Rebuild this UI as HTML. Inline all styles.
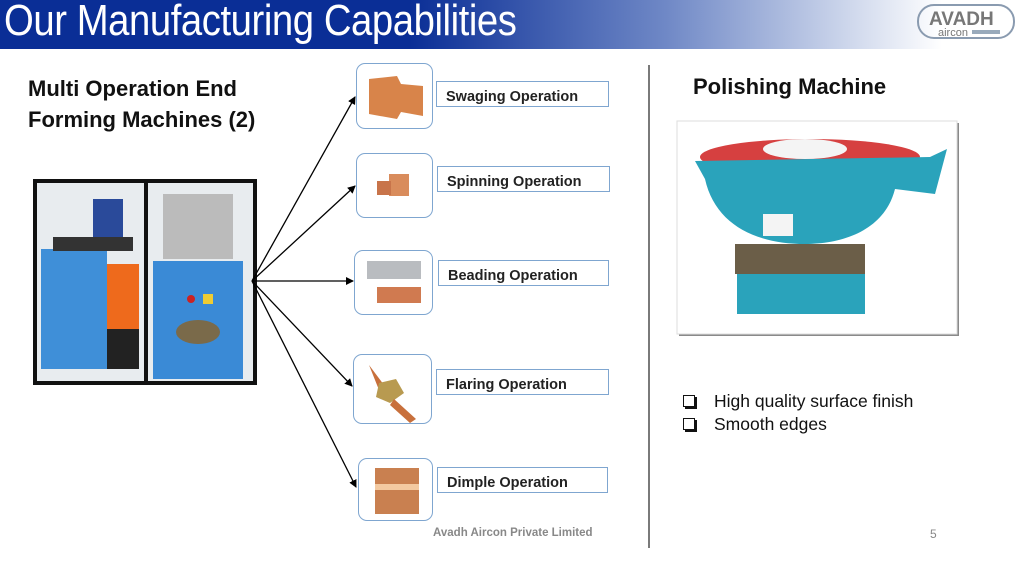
<!DOCTYPE html>
<html><head><meta charset="utf-8"><style>
body{margin:0;width:1024px;height:562px;background:#fff;position:relative;overflow:hidden;font-family:"Liberation Sans",sans-serif}
.hdr{position:absolute;left:0;top:0;width:1024px;height:49px;background:linear-gradient(90deg,#0a2e96 0%,#0a2e96 40%,#6f88c6 65%,#c9d3ea 82%,#fff 92%)}
.title{position:absolute;left:4px;top:-4px;color:#fff;font-size:44px;transform:scaleX(0.87);transform-origin:0 0;white-space:nowrap;letter-spacing:-0.5px}
.t{position:absolute;font-weight:bold;color:#111;white-space:nowrap}
.lb{position:absolute;border:1.5px solid #7fa6d0;background:#fff;font-weight:bold;font-size:14.5px;color:#222;padding-left:9px;padding-top:3px;line-height:24px;box-sizing:border-box}
.ib{position:absolute;border:1.5px solid #7fa6d0;border-radius:9px;background:#fff;box-sizing:border-box;overflow:hidden}
</style></head><body>
<div class="hdr"><div class="title">Our Manufacturing Capabilities</div></div>
<svg style="position:absolute;left:916px;top:3px" width="100" height="38">
<rect x="2" y="2" width="96" height="33" rx="16" fill="none" stroke="#8a9bb0" stroke-width="2"/>
<text x="13" y="22" font-size="19" font-family="Liberation Sans" fill="#777" font-weight="bold">AVADH</text>
<text x="22" y="33" font-size="11" font-family="Liberation Sans" fill="#777">aircon</text>
<rect x="56" y="27" width="28" height="4" fill="#9ab"/>
</svg>
<div class="t" style="left:28px;top:73px;font-size:22px;line-height:31px">Multi Operation End<br>Forming Machines (2)</div>
<div class="t" style="left:693px;top:74px;font-size:22px">Polishing Machine</div>

<svg style="position:absolute;left:33px;top:179px" width="226" height="208">
<rect x="2" y="2" width="220" height="202" fill="#e8ecef" stroke="#111" stroke-width="4"/>
<rect x="8" y="70" width="66" height="120" fill="#3f8fd8"/>
<rect x="74" y="85" width="32" height="105" fill="#ee6a1c"/>
<rect x="74" y="150" width="32" height="40" fill="#222"/>
<rect x="60" y="20" width="30" height="40" fill="#2a4a9a"/>
<rect x="20" y="58" width="80" height="14" fill="#333"/>
<line x1="113" y1="4" x2="113" y2="202" stroke="#111" stroke-width="4"/>
<rect x="130" y="15" width="70" height="65" fill="#bbb"/>
<rect x="120" y="82" width="90" height="118" fill="#3a8ad6"/>
<ellipse cx="165" cy="153" rx="22" ry="12" fill="#7a6a4a"/>
<rect x="170" y="115" width="10" height="10" fill="#ec3"/>
<circle cx="158" cy="120" r="4" fill="#c22"/>
</svg>

<svg style="position:absolute;left:0;top:0" width="1024" height="562">
<defs><marker id="a" markerWidth="8" markerHeight="8" refX="7" refY="4" orient="auto" markerUnits="userSpaceOnUse"><path d="M0,0L8,4L0,8z" fill="#000"/></marker></defs>
<g stroke="#000" stroke-width="1.3" marker-end="url(#a)">
<line x1="252" y1="281" x2="355" y2="97"/>
<line x1="252" y1="281" x2="355" y2="186"/>
<line x1="252" y1="281" x2="353" y2="281"/>
<line x1="252" y1="281" x2="352" y2="386"/>
<line x1="252" y1="281" x2="356" y2="487"/>
</g>
<line x1="649" y1="65" x2="649" y2="548" stroke="#222" stroke-width="1.2"/>
</svg>

<div class="ib" style="left:356px;top:63px;width:77px;height:66px"><svg width="77" height="66"><path d="M12,15 L40,12 L44,20 L66,22 L66,52 L44,48 L40,55 L12,50z" fill="#d8844a"/></svg></div>
<div class="ib" style="left:356px;top:153px;width:77px;height:65px"><svg width="77" height="65"><rect x="32" y="20" width="20" height="22" fill="#d98c5c"/><rect x="20" y="27" width="14" height="14" fill="#c8744a"/></svg></div>
<div class="ib" style="left:354px;top:250px;width:79px;height:65px"><svg width="79" height="65"><rect x="12" y="10" width="54" height="18" fill="#b9bcc0"/><rect x="22" y="36" width="44" height="16" fill="#d07a50"/></svg></div>
<div class="ib" style="left:353px;top:354px;width:79px;height:70px"><svg width="79" height="70"><path d="M15,10 L30,30 L25,35z" fill="#c8703c"/><polygon points="25,28 42,24 50,38 36,48 22,42" fill="#b89a50"/><path d="M40,44 L62,64 L56,68 L36,50z" fill="#c8703c"/></svg></div>
<div class="ib" style="left:358px;top:458px;width:75px;height:63px"><svg width="75" height="63"><rect x="16" y="9" width="44" height="46" fill="#c98050"/><rect x="16" y="25" width="44" height="6" fill="#f3c9a0"/></svg></div>

<div class="lb" style="left:436px;top:81px;width:173px;height:26px">Swaging Operation</div>
<div class="lb" style="left:437px;top:166px;width:173px;height:26px">Spinning Operation</div>
<div class="lb" style="left:438px;top:260px;width:171px;height:26px">Beading Operation</div>
<div class="lb" style="left:436px;top:369px;width:173px;height:26px">Flaring Operation</div>
<div class="lb" style="left:437px;top:467px;width:171px;height:26px">Dimple Operation</div>

<svg style="position:absolute;left:675px;top:119px" width="290" height="222">
<rect x="4" y="4" width="280" height="213" fill="#8a8a8a"/>
<rect x="2" y="2" width="280" height="213" fill="#fff" stroke="#ddd"/>
<ellipse cx="135" cy="38" rx="110" ry="18" fill="#d64040"/>
<ellipse cx="130" cy="30" rx="42" ry="10" fill="#f4f4f4"/>
<path d="M20,42 L255,38 L272,30 L260,75 L220,70 C210,110 170,125 130,125 C80,125 40,105 30,60z" fill="#2aa3bb"/>
<rect x="88" y="95" width="30" height="22" fill="#f4f4f4"/>
<rect x="60" y="125" width="130" height="30" fill="#6b5e48"/>
<rect x="62" y="155" width="128" height="40" fill="#2aa3bb"/>
</svg>

<div style="position:absolute;left:683px;top:390px;font-size:17.5px;color:#111;line-height:23px">
<div><span style="display:inline-block;width:10px;height:10px;border:1.5px solid #111;box-shadow:2px 2px 0 #111;margin-right:19px"></span>High quality surface finish</div>
<div><span style="display:inline-block;width:10px;height:10px;border:1.5px solid #111;box-shadow:2px 2px 0 #111;margin-right:19px"></span>Smooth edges</div>
</div>
<div style="position:absolute;left:433px;top:527px;font-size:11.5px;font-weight:bold;color:#888">Avadh Aircon Private Limited</div>
<div style="position:absolute;left:930px;top:527px;font-size:12px;color:#888">5</div>
</body></html>
